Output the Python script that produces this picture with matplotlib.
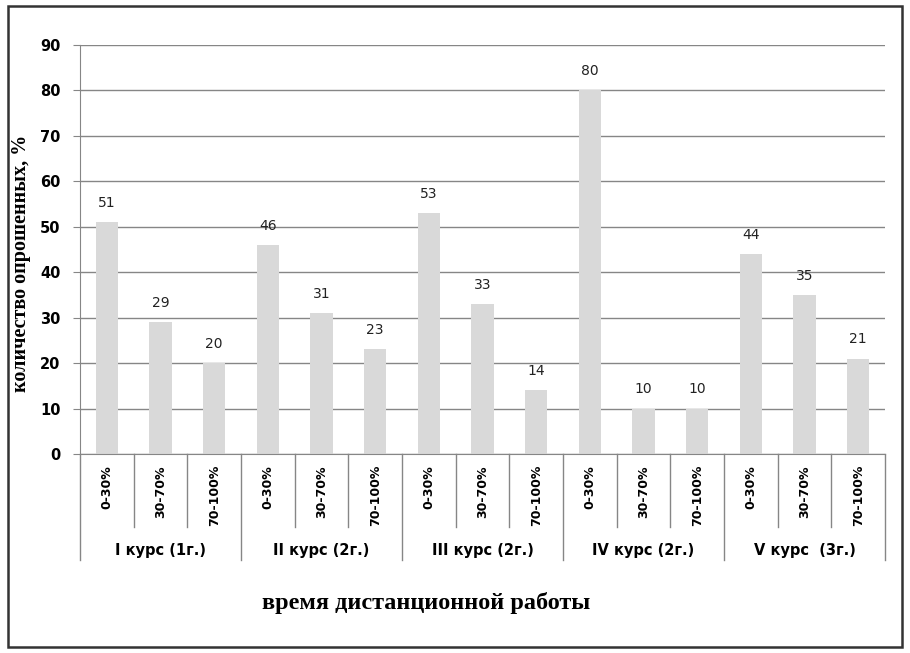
import matplotlib.pyplot as plt
from matplotlib.patches import Rectangle

# data
groups = ["I курс (1г.)", "II курс (2г.)", "III курс (2г.)", "IV курс (2г.)", "V курс  (3г.)"]
ranges = ["0-30%", "30-70%", "70-100%"]
values = [51, 29, 20, 46, 31, 23, 53, 33, 14, 80, 10, 10, 44, 35, 21]

grid_col = "#868686"
bar_col = "#d9d9d9"

fig = plt.figure(figsize=(9.1, 6.53), dpi=100)
ax = fig.add_axes([80 / 910, 1 - 454 / 653, 805 / 910, 409 / 653])

n = len(values)
x = list(range(n))
ax.bar(x, values, width=0.41, color=bar_col, zorder=2)
for xi, v in zip(x, values):
    ax.text(xi, v + 2.7, str(v), ha="center", va="bottom", fontsize=10, color="#222222")

ax.set_xlim(-0.5, n - 0.5)
ax.set_ylim(0, 90)
ax.set_yticks(range(0, 91, 10))
ax.set_yticklabels([str(t) for t in range(0, 91, 10)], fontsize=10.5, fontweight="bold")
ax.yaxis.grid(True, color=grid_col, linewidth=1)
ax.set_axisbelow(True)
ax.tick_params(axis="y", length=5, color=grid_col, pad=9)
ax.tick_params(axis="x", length=0)
ax.set_xticks([])
for s in ["top", "right"]:
    ax.spines[s].set_visible(False)
ax.spines["left"].set_color(grid_col)
ax.spines["bottom"].set_color(grid_col)

# category labels and separators under the axis
xt = ax.get_xaxis_transform()
inner = -73 / 409
outer = -106 / 409
for i in range(n + 1):
    xs = i - 0.5
    y_end = outer if i % 3 == 0 else inner
    ax.plot([xs, xs], [0, y_end], transform=xt, color=grid_col, linewidth=1, clip_on=False)
for i in range(n):
    ax.text(i, -11 / 409, ranges[i % 3], transform=xt, rotation=90,
            ha="center", va="top", fontsize=9, fontweight="bold")
for g, name in enumerate(groups):
    ax.text(3 * g + 1, -(550 - 454) / 409, name, transform=xt, ha="center", va="center",
            fontsize=10.5, fontweight="bold")

fig.text(21 / 910, 1 - 263 / 653, "количество опрошенных, %", rotation=90, ha="center",
         va="center", fontsize=14.5, fontweight="bold", family="Liberation Serif")
fig.text(426 / 910, 1 - 603 / 653, "время дистанционной работы", ha="center", va="center",
         fontsize=17.5, fontweight="bold", family="Liberation Serif")

# frame around the chart
fig.patches.append(Rectangle((8 / 910, 1 - 647 / 653), 894 / 910, 641 / 653,
                             transform=fig.transFigure, fill=False,
                             edgecolor="#333333", linewidth=1.8))

fig.savefig("out.png", dpi=100)
